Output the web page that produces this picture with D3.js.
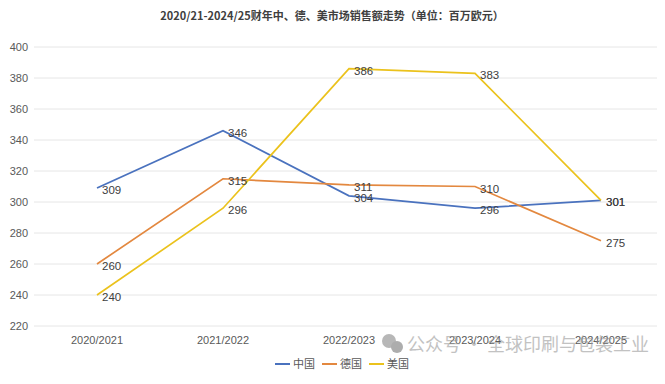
<!DOCTYPE html>
<html>
<head>
<meta charset="utf-8">
<script src="https://cdn.jsdelivr.net/npm/d3@7"></script>
<style>
body{margin:0;background:#fff;}
text{font-family:"Noto Sans CJK SC","Liberation Sans",sans-serif;}
</style>
</head>
<body>
<div id="chart"></div>
<script>
var w=665;
var h=384;
var title="2020/21-2024/25财年中、德、美市场销售额走势（单位：百万欧元）";
var years=["2020/2021","2021/2022","2022/2023","2023/2024","2024/2025"];
var seriesNames=["中国","德国","美国"];
var china=[309,346,304,296,301];
var germany=[260,315,311,310,275];
var usa=[240,296,386,383,301];
var yTicks=[220,240,260,280,300,320,340,360,380,400];
var colors=["#4A72BE","#E3883F","#EBC21C"];

var series=[china,germany,usa].map(function(vals,i){
  return {name:seriesNames[i],color:colors[i],values:vals};
});

var svg=d3.select("#chart")
  .append("svg")
  .attr("width",w)
  .attr("height",h);

var x=d3.scaleBand().domain(years).range([34,664]);
var y=d3.scaleLinear().domain([220,400]).range([326,47]);

// gridlines
svg.selectAll(".grid")
   .data(yTicks)
   .enter()
   .append("line")
   .attr("x1",34)
   .attr("x2",657)
   .attr("y1",function(d){return y(d);})
   .attr("y2",function(d){return y(d);})
   .style("stroke","#e6e6e6")
   .style("stroke-width",1);

// y axis labels
var yAxis=svg.append("g")
   .attr("transform","translate(28,0)")
   .call(d3.axisLeft(y).tickValues(yTicks).tickSize(0).tickPadding(0));
yAxis.select(".domain").remove();
yAxis.selectAll("text")
   .style("font-size","11px")
   .style("fill","#595959")
   .style("font-family","'Liberation Sans',sans-serif");

// x axis labels
var xAxis=svg.append("g")
   .attr("transform","translate(0,333)")
   .call(d3.axisBottom(x).tickSize(0).tickPadding(3));
xAxis.select(".domain").remove();
xAxis.selectAll("text")
   .style("font-size","11px")
   .style("fill","#595959")
   .style("font-family","'Liberation Sans',sans-serif");

var line=d3.line()
   .x(function(d,i){return x(years[i])+x.bandwidth()/2;})
   .y(function(d){return y(d);});

svg.selectAll(".series")
   .data(series)
   .enter()
   .append("path")
   .attr("d",function(d){return line(d.values);})
   .style("fill","none")
   .style("stroke",function(d){return d.color;})
   .style("stroke-width",1.7);

// data labels
series.forEach(function(s){
  svg.selectAll(null)
     .data(s.values)
     .enter()
     .append("text")
     .attr("x",function(d,i){return x(years[i])+x.bandwidth()/2+5;})
     .attr("y",function(d){return y(d)+2;})
     .attr("dy","0.35em")
     .text(function(d){return d;})
     .style("font-size","11.5px")
     .style("fill","#404040")
     .style("font-family","'Liberation Sans',sans-serif");
});

// title
svg.append("text")
   .attr("x",332)
   .attr("y",20)
   .attr("text-anchor","middle")
   .text(title)
   .style("font-size","11px")
   .style("font-weight","bold")
   .style("fill","#404040");

// legend
var legendX=[275,322,369];
var legend=svg.selectAll(".legend")
   .data(series)
   .enter()
   .append("g")
   .attr("transform",function(d,i){return "translate("+legendX[i]+",364)";});
legend.append("line")
   .attr("x1",0).attr("x2",15)
   .attr("y1",0).attr("y2",0)
   .style("stroke",function(d){return d.color;})
   .style("stroke-width",2);
legend.append("text")
   .attr("x",18)
   .attr("y",0)
   .attr("dy","0.35em")
   .text(function(d){return d.name;})
   .style("font-size","11px")
   .style("fill","#595959");

// watermark
var wm=svg.append("g").style("opacity",0.6);
wm.append("circle").attr("cx",389).attr("cy",341).attr("r",7).style("fill","#888");
wm.append("circle").attr("cx",397).attr("cy",347).attr("r",6).style("fill","#777");
wm.append("text")
   .attr("x",407)
   .attr("y",351)
   .text("公众号 · 全球印刷与包装工业")
   .style("font-size","18px")
   .style("fill","#9a9a9a");
</script>
</body>
</html>
